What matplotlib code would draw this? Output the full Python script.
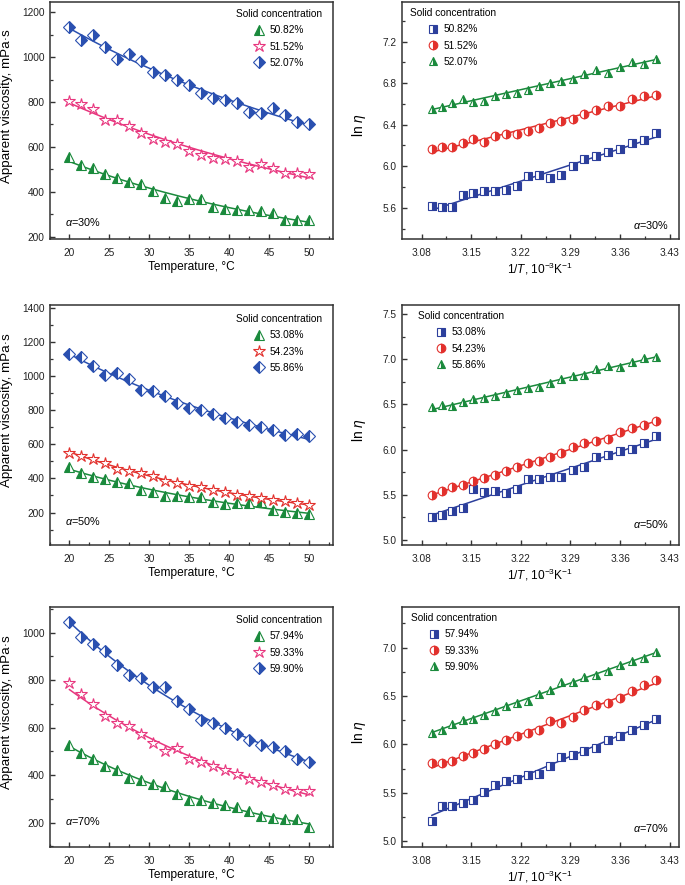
import numpy as np
import matplotlib.pyplot as plt
from matplotlib.ticker import MultipleLocator, FormatStrFormatter

plt.rcParams["font.family"] = ["Liberation Sans", "DejaVu Sans"]
plt.rcParams["mathtext.fontset"] = "custom"
plt.rcParams["mathtext.rm"] = "Liberation Sans"
plt.rcParams["mathtext.it"] = "Liberation Sans:italic"

# Temperature, degC (same for every series)
temperature = [20, 21.5, 23, 24.5, 26, 27.5, 29, 30.5, 32, 33.5, 35,
               36.5, 38, 39.5, 41, 42.5, 44, 45.5, 47, 48.5, 50]

# alpha = 30 %
conc_30 = ["50.82%", "51.52%", "52.07%"]
visc_30_low = [557, 518, 505, 478, 463, 444, 434, 404, 371, 359, 370,
               367, 332, 322, 318, 318, 313, 307, 273, 273, 274]
visc_30_mid = [803, 791, 768, 721, 721, 693, 664, 637, 623, 612, 582,
               565, 550, 548, 538, 511, 523, 504, 486, 484, 478]
visc_30_high = [1133, 1078, 1099, 1045, 992, 1014, 984, 935, 920, 899, 876,
                838, 819, 810, 795, 757, 749, 771, 743, 712, 700]

# alpha = 50 %
conc_50 = ["53.08%", "54.23%", "55.86%"]
visc_50_low = [469, 434, 407, 399, 379, 372, 334, 323, 297, 299, 290,
               290, 262, 251, 255, 253, 260, 212, 204, 196, 192]
visc_50_mid = [551, 531, 512, 492, 453, 446, 434, 415, 387, 372, 356,
               348, 333, 319, 305, 294, 284, 274, 266, 255, 245]
visc_50_high = [1126, 1112, 1060, 1007, 1019, 984, 919, 909, 882, 839, 810,
                800, 777, 755, 730, 715, 703, 681, 652, 660, 648]

# alpha = 70 %
conc_70 = ["57.94%", "59.33%", "59.90%"]
visc_70_low = [527, 491, 469, 440, 423, 389, 378, 361, 354, 322, 297,
               294, 283, 276, 266, 248, 227, 221, 213, 213, 182]
visc_70_mid = [788, 743, 698, 649, 621, 607, 575, 533, 502, 512, 467,
               455, 439, 423, 404, 384, 371, 359, 340, 333, 333]
visc_70_high = [1043, 982, 954, 921, 862, 823, 811, 771, 771, 711, 680,
                631, 620, 599, 572, 547, 527, 519, 500, 467, 455]

alpha_labels = ["30%", "50%", "70%"]

GREEN = "#1a8a3c"
PINK = "#e8367e"
RED = "#e2302c"
BLUE = "#2a50b0"
NAVY = "#2c3f9c"

rows = [
    (conc_30, [visc_30_low, visc_30_mid, visc_30_high],
     [("^", "left", GREEN), ("*", "none", PINK), ("D", "right", BLUE)],
     (190, 1245), (5.30, 7.58), 0.4),
    (conc_50, [visc_50_low, visc_50_mid, visc_50_high],
     [("^", "left", GREEN), ("*", "none", RED), ("D", "left", BLUE)],
     (10, 1415), (4.945, 7.6), 0.5),
    (conc_70, [visc_70_low, visc_70_mid, visc_70_high],
     [("^", "left", GREEN), ("*", "none", PINK), ("D", "right", BLUE)],
     (97, 1108), (4.94, 7.42), 0.5),
]
right_styles = [("s", "right", NAVY), ("o", "right", RED), ("^", "right", GREEN)]

# axes boxes in pixels (top, bottom) for each row
W, H = 685, 885
row_box = [(2, 239), (305, 545), (607, 847)]
left_x = (49.5, 333)
right_x = (401.7, 679)

fig = plt.figure(figsize=(W / 100, H / 100), dpi=100)

T = np.array(temperature)
inv_T = 1000.0 / (T + 273.15)
T_fine = np.linspace(T.min(), T.max(), 200)
inv_fine = 1000.0 / (T_fine + 273.15)


def style_axes(ax):
    for s in ax.spines.values():
        s.set_linewidth(1.1)
        s.set_color("#333333")
    ax.tick_params(which="both", direction="in", labelsize=7.3, colors="#333333",
                   labelcolor="#222222")
    ax.tick_params(which="major", length=3.5, width=1.0)
    ax.tick_params(which="minor", length=2.0, width=0.9)
    ax.tick_params(axis="x", which="major", pad=6.5)


def leg_kw():
    return dict(frameon=False, fontsize=7.3, title_fontsize=7.3, handlelength=1.0,
                handletextpad=0.5, labelspacing=0.62, borderpad=0, borderaxespad=0,
                numpoints=1)


for r, (concs, viscs, lstyles, lylim, rylim, rstep) in enumerate(rows):
    top, bot = row_box[r]
    hgt = (bot - top) / H
    y0 = 1 - bot / H
    xlab_y = -22 / (bot - top)

    # ---- viscosity vs temperature ----
    ax = fig.add_axes([left_x[0] / W, y0, (left_x[1] - left_x[0]) / W, hgt])
    for conc, v, (mk, fs, col) in zip(concs, viscs, lstyles):
        v = np.array(v, dtype=float)
        a, b = np.polyfit(inv_T, np.log(v), 1)
        ax.plot(T_fine, np.exp(a * inv_fine + b), color=col, lw=1.1, zorder=2)
        ms = 9 if mk == "*" else (5.8 if mk == "D" else 6.5)
        ax.plot(T, v, ls="none", marker=mk, ms=ms, mec=col, mew=0.8,
                mfc=col if fs != "none" else "white", fillstyle=fs if fs != "none" else "full",
                markerfacecoloralt="white", label=conc, zorder=3)
    ax.set_xlim(17.5, 53)
    ax.set_ylim(*lylim)
    ax.xaxis.set_major_locator(MultipleLocator(5))
    ax.xaxis.set_minor_locator(MultipleLocator(2.5))
    ax.yaxis.set_major_locator(MultipleLocator(200))
    ax.yaxis.set_minor_locator(MultipleLocator(100))
    style_axes(ax)
    ax.set_xlabel("Temperature, °C", fontsize=8.6)
    ax.set_ylabel("Apparent viscosity, mPa·s", fontsize=9.6)
    ax.yaxis.set_label_coords(-0.127, 0.56)
    ax.xaxis.set_label_coords(0.5, xlab_y)
    title_off = [7, 9, 8][r]
    ax.legend(title="Solid concentration", loc="upper right",
              bbox_to_anchor=(1 - 11 / 284, 1 - title_off / (bot - top)), **leg_kw())
    ax.text(0.056, [0.072, 0.10, 0.11][r], r"$\it{\alpha}$=" + alpha_labels[r],
            transform=ax.transAxes, fontsize=7.8, va="center", ha="left")

    # ---- ln(viscosity) vs 1/T ----
    ax = fig.add_axes([right_x[0] / W, y0, (right_x[1] - right_x[0]) / W, hgt])
    for conc, v, (mk, fs, col) in zip(concs, viscs, right_styles):
        ln_v = np.log(np.array(v, dtype=float))
        a, b = np.polyfit(inv_T, ln_v, 1)
        ax.plot(inv_T, a * inv_T + b, color=col, lw=1.1, zorder=2)
        ax.plot(inv_T, ln_v, ls="none", marker=mk, ms=6.2, mec=col, mew=0.8,
                mfc=col, fillstyle=fs, markerfacecoloralt="white", label=conc, zorder=3)
    ax.set_xlim(3.052, 3.443)
    ax.set_ylim(*rylim)
    ax.set_xticks([3.08, 3.15, 3.22, 3.29, 3.36, 3.43])
    ax.xaxis.set_minor_locator(MultipleLocator(0.035))
    ax.xaxis.set_major_formatter(FormatStrFormatter("%.2f"))
    ax.yaxis.set_major_locator(MultipleLocator(rstep))
    ax.yaxis.set_minor_locator(MultipleLocator(rstep / 2))
    ax.yaxis.set_major_formatter(FormatStrFormatter("%.1f"))
    style_axes(ax)
    ax.set_xlabel(r"1/$T$, 10$^{-3}$K$^{-1}$", fontsize=8.6)
    ax.set_ylabel(r"ln $\eta$", fontsize=10)
    ax.yaxis.set_label_coords(-0.12, 0.48)
    ax.xaxis.set_label_coords(0.5, xlab_y)
    loff = [8, 16, 9][r]
    ax.legend(title="Solid concentration", loc="upper left",
              bbox_to_anchor=(loff / 277.3, 1 - 6 / (bot - top)), **leg_kw())
    ax.text(0.964, [0.06, 0.0875, 0.079][r], r"$\it{\alpha}$=" + alpha_labels[r],
            transform=ax.transAxes, fontsize=7.8, va="center", ha="right")

fig.savefig("out.png", dpi=100)
